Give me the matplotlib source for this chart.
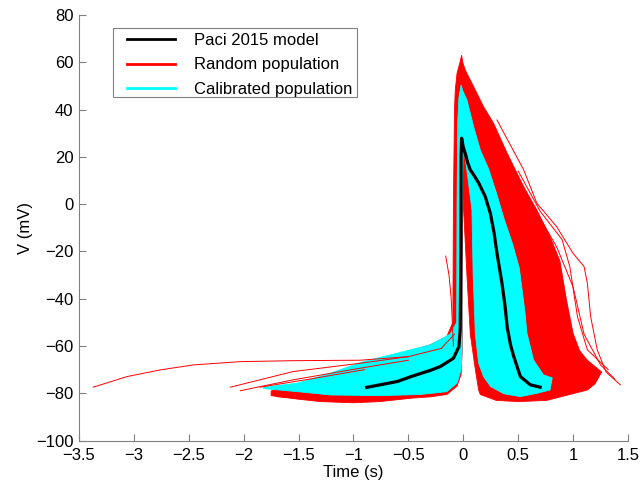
import numpy as np
import matplotlib
matplotlib.use("Agg")
import matplotlib.pyplot as plt
from matplotlib.lines import Line2D
from matplotlib.patches import Rectangle

# Paci 2015 model action potential
paci_t = [-0.88, -0.6, -0.48, -0.3, -0.21, -0.09, -0.04, -0.028, -0.022, -0.02, -0.015,
          0.0, 0.018, 0.04, 0.064, 0.10, 0.14, 0.2, 0.246, 0.28, 0.307, 0.352, 0.38, 0.40,
          0.43, 0.46, 0.52, 0.61, 0.70]
paci_v = [-77.5, -75.0, -73.0, -70.3, -68.7, -65.2, -60.3, -53.0, -20.0, 20.0, 27.9,
          24.0, 21.5, 17.5, 14.5, 12.0, 9.0, 3.2, -3.8, -12.0, -20.8, -33.4, -43.0, -52.0,
          -59.5, -64.5, -72.9, -76.4, -77.4]

# outline of the random population (red envelope)
red_t = [-1.75, -1.5, -1.2, -0.9, -0.6, -0.3, -0.15, -0.095, -0.09, -0.08, -0.073, -0.057,
         -0.03, -0.015, -0.005, 0.018, 0.094, 0.185, 0.276, 0.40, 0.55, 0.67, 0.79, 0.88,
         0.94, 1.0, 1.06, 1.13, 1.26, 1.2, 1.13, 0.97, 0.76, 0.5, 0.3, 0.155, 0.14, 0.11,
         0.064, 0.034, 0.003, -0.005, -0.009, -0.01, -0.02, -0.057, -0.15, -0.3, -0.46,
         -0.76, -1.0, -1.3, -1.5, -1.75]
red_v = [-79.0, -76.0, -72.0, -67.0, -63.5, -59.5, -56.0, -50.0, 0.0, 40.0, 48.3, 55.3,
         60.0, 63.0, 60.0, 56.7, 49.7, 41.2, 34.2, 21.5, 7.4, -2.5, -13.7, -24.0,
         -40.5, -54.6, -62.0, -66.0, -71.0, -76.0, -78.6, -80.5, -83.0, -83.5, -83.0, -80.5, -78.6, -70.0,
         -55.0, -30.6, -2.5, 5.0, -20.0, -62.0, -72.0, -77.0, -80.5, -81.5, -82.0,
         -83.5, -84.0, -83.5, -82.5, -81.0]

# outline of the calibrated population (cyan envelope)
cal_t = [-1.82, -1.51, -1.21, -0.91, -0.6, -0.3, -0.12, -0.06, -0.057, -0.05, -0.04, -0.02,
         -0.005, 0.034, 0.094, 0.155, 0.23, 0.30, 0.37, 0.45, 0.51, 0.56, 0.58, 0.64, 0.73,
         0.81, 0.79, 0.67, 0.52, 0.37, 0.25, 0.185, 0.14, 0.11, 0.09, 0.079, 0.04, 0.0,
         -0.012, -0.012, -0.02, -0.057, -0.15, -0.39, -0.76, -1.21, -1.51, -1.82]
cal_v = [-77.4, -75.7, -71.5, -66.6, -63.0, -59.5, -55.0, -50.0, 0.0, 35.0, 45.0, 50.4,
         48.0, 44.0, 32.8, 22.9, 15.0, 5.0, -6.0, -17.0, -27.0, -45.0, -54.6, -65.9, -72.2,
         -73.5, -78.6, -80.0, -81.4, -80.2, -77.2, -73.0, -67.3, -55.0, -30.0, -2.5, 12.0, 25.0,
         0.0, -62.0, -70.0, -75.7, -79.3, -80.5, -81.0, -80.7, -79.3, -78.0]

# single red traces that stick out of the envelope
long_t = [-3.37, -3.06, -2.76, -2.46, -2.03, -1.55, -0.94, -0.5, -0.2, -0.08]
long_v = [-77.4, -72.9, -70.1, -68.0, -66.6, -66.2, -66.0, -64.5, -61.0, -55.0]
tr_a_t = [-2.12, -1.55, -0.94, -0.5]
tr_a_v = [-77.4, -70.8, -67.3, -64.5]
tr_b_t = [-2.03, -1.55, -0.94, -0.5]
tr_b_v = [-78.9, -74.3, -69.4, -66.0]
tr_c_t = [-1.85, -1.4, -0.9]
tr_c_v = [-77.4, -74.0, -70.0]
tr_d_t = [-1.7, -1.3, -0.94]
tr_d_v = [-81.4, -83.0, -83.5]
out1_t = [0.307, 0.55, 0.67, 0.85, 1.0, 1.1, 1.13, 1.16, 1.22, 1.3, 1.43]
out1_v = [35.6, 14.5, 0.4, -9.5, -20.8, -26.4, -33.4, -47.6, -61.6, -71.0, -76.4]
out2_t = [0.5, 0.7, 0.9, 0.97, 1.04, 1.13, 1.32]
out2_v = [14.0, -3.0, -15.0, -26.4, -47.6, -61.6, -70.0]
out3_t = [0.6, 0.85, 1.0, 1.1, 1.25, 1.38]
out3_v = [2.0, -18.0, -35.0, -55.0, -68.0, -74.0]
side_t = [-0.16, -0.13, -0.11, -0.095, -0.09]
side_v = [-22.0, -30.0, -40.0, -55.0, -60.0]

xticks = [-3.5, -3, -2.5, -2, -1.5, -1, -0.5, 0, 0.5, 1, 1.5]
yticks = [-100, -80, -60, -40, -20, 0, 20, 40, 60, 80]
labels = ['Paci 2015 model', 'Random population', 'Calibrated population']

plt.rcParams['font.family'] = ['Liberation Sans', 'DejaVu Sans']
plt.rcParams['font.size'] = 12

fig = plt.figure(figsize=(6.41, 4.82), dpi=100)
ax = fig.add_axes([0.1232, 0.0859, 0.8565, 0.883])

ax.fill(red_t, red_v, color='red', lw=0.6)
for tt, vv in [(long_t, long_v), (tr_a_t, tr_a_v), (tr_b_t, tr_b_v), (tr_c_t, tr_c_v),
               (tr_d_t, tr_d_v), (out1_t, out1_v), (out2_t, out2_v), (out3_t, out3_v),
               (side_t, side_v)]:
    ax.plot(tt, vv, color='red', lw=0.7)
ax.fill(cal_t, cal_v, color='cyan', lw=0.6)
ax.plot(paci_t, paci_v, color='black', lw=2.3)

ax.set_xlim(-3.5, 1.5)
ax.set_ylim(-100, 80)
ax.set_xticks(xticks)
ax.set_yticks(yticks)
ax.set_xticklabels([f"{x:g}".replace('-', '\u2212') for x in xticks])
ax.set_yticklabels([f"{y:g}".replace('-', '\u2212') for y in yticks])
ax.tick_params(direction='in', length=5, color='#808080')
ax.tick_params(axis='x', pad=5)
ax.tick_params(axis='y', pad=4)
for s in ['top', 'right']:
    ax.spines[s].set_visible(False)
for s in ['left', 'bottom']:
    ax.spines[s].set_color('#808080')
ax.set_xlabel('Time (s)', labelpad=2)
ax.set_ylabel('V (mV)', labelpad=2)

# legend frame drawn by hand (MATLAB-like padding), frameless legend inside
ax.add_patch(Rectangle((0.062, 0.807), 0.444, 0.1625, transform=ax.transAxes,
                       facecolor='white', edgecolor='#808080', lw=0.8, zorder=4.5))
handles = [Line2D([], [], color='black', lw=2),
           Line2D([], [], color='red', lw=2),
           Line2D([], [], color='cyan', lw=2)]
ax.legend(handles, labels, loc='upper left', bbox_to_anchor=(0.0874, 0.957),
          borderaxespad=0, borderpad=0, frameon=False, handlelength=2.9,
          labelspacing=0.55, handletextpad=1.14)

fig.savefig('out.png', dpi=100)
